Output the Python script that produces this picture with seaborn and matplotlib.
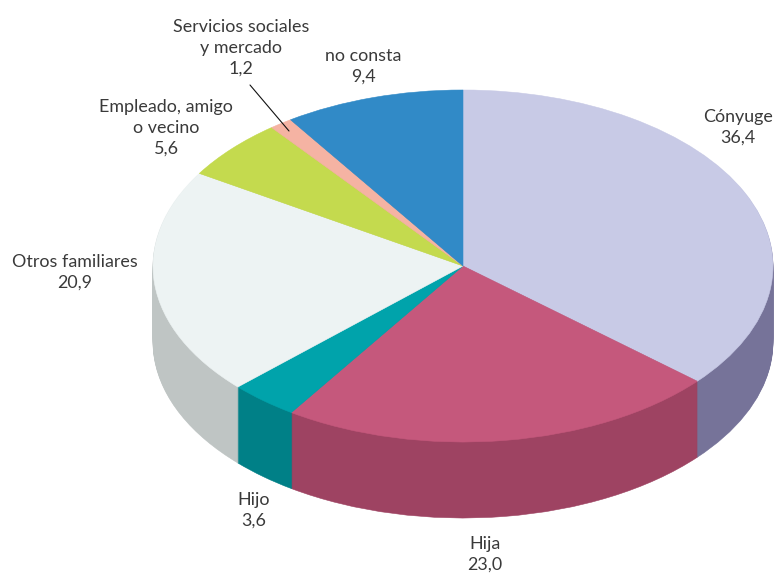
import matplotlib
matplotlib.use("Agg")
import matplotlib.pyplot as plt
import seaborn as sns

# datos del gráfico
categorias = ["Cónyuge", "Hija", "Hijo", "Otros familiares",
              "Empleado, amigo\no vecino", "Servicios sociales\ny mercado", "no consta"]
valores = [36.4, 23.0, 3.6, 20.9, 5.6, 1.2, 9.4]
etiquetas_valor = ["36,4", "23,0", "3,6", "20,9", "5,6", "1,2", "9,4"]

colores_top = ["#c8cae6", "#c5587c", "#00a3ab", "#edf3f3", "#c4da4e", "#f5b3a3", "#318ac7"]
colores_lado = ["#767399", "#9e4362", "#008087", "#bfc5c4", "#9db03e", "#c48f82", "#276e9f"]

# posicion de etiquetas en pixeles (centro x, centro y)
pos_etiquetas = [(738, 127), (485, 554), (254, 510), (75, 272), (166, 128), (241, 48), (363, 66)]

W, H = 777, 575
CX, CY = 463, 266
RX, RY = 310, 176
DEPTH = 76

sns.set_theme(style="white")
plt.rcParams['font.family'] = ['Lato', 'DejaVu Sans']

fig = plt.figure(figsize=(W / 100, H / 100), dpi=100)
ax = fig.add_axes([0, 0, 1, 1])


def tarta(colores, desplazamiento):
    wedges = ax.pie(valores, colors=colores, startangle=90, counterclock=False,
                    radius=1, center=(0, -desplazamiento / RY), frame=True)[0]
    for w in wedges:
        w.set_edgecolor(w.get_facecolor())
        w.set_linewidth(0.4)


# lateral: la misma tarta repetida hacia abajo
for d in range(DEPTH, 0, -1):
    tarta(colores_lado, d)
tarta(colores_top, 0)

ax.set_aspect("auto")
ax.set_xlim(-CX / RX, (W - CX) / RX)
ax.set_ylim(-(H - CY) / RY, CY / RY)
ax.axis("off")

for cat, val, (x, y) in zip(categorias, etiquetas_valor, pos_etiquetas):
    fig.text(x / W, 1 - y / H, f"{cat}\n{val}", ha="center", va="center",
             fontsize=12.9, color="#3a3a3a", fontweight="normal", linespacing=1.36)

# linea guia de Servicios sociales
ax.plot([(250 - CX) / RX, (289 - CX) / RX], [(CY - 85) / RY, (CY - 131) / RY],
        color="#111111", lw=0.8)

fig.savefig("out.png", dpi=100)
